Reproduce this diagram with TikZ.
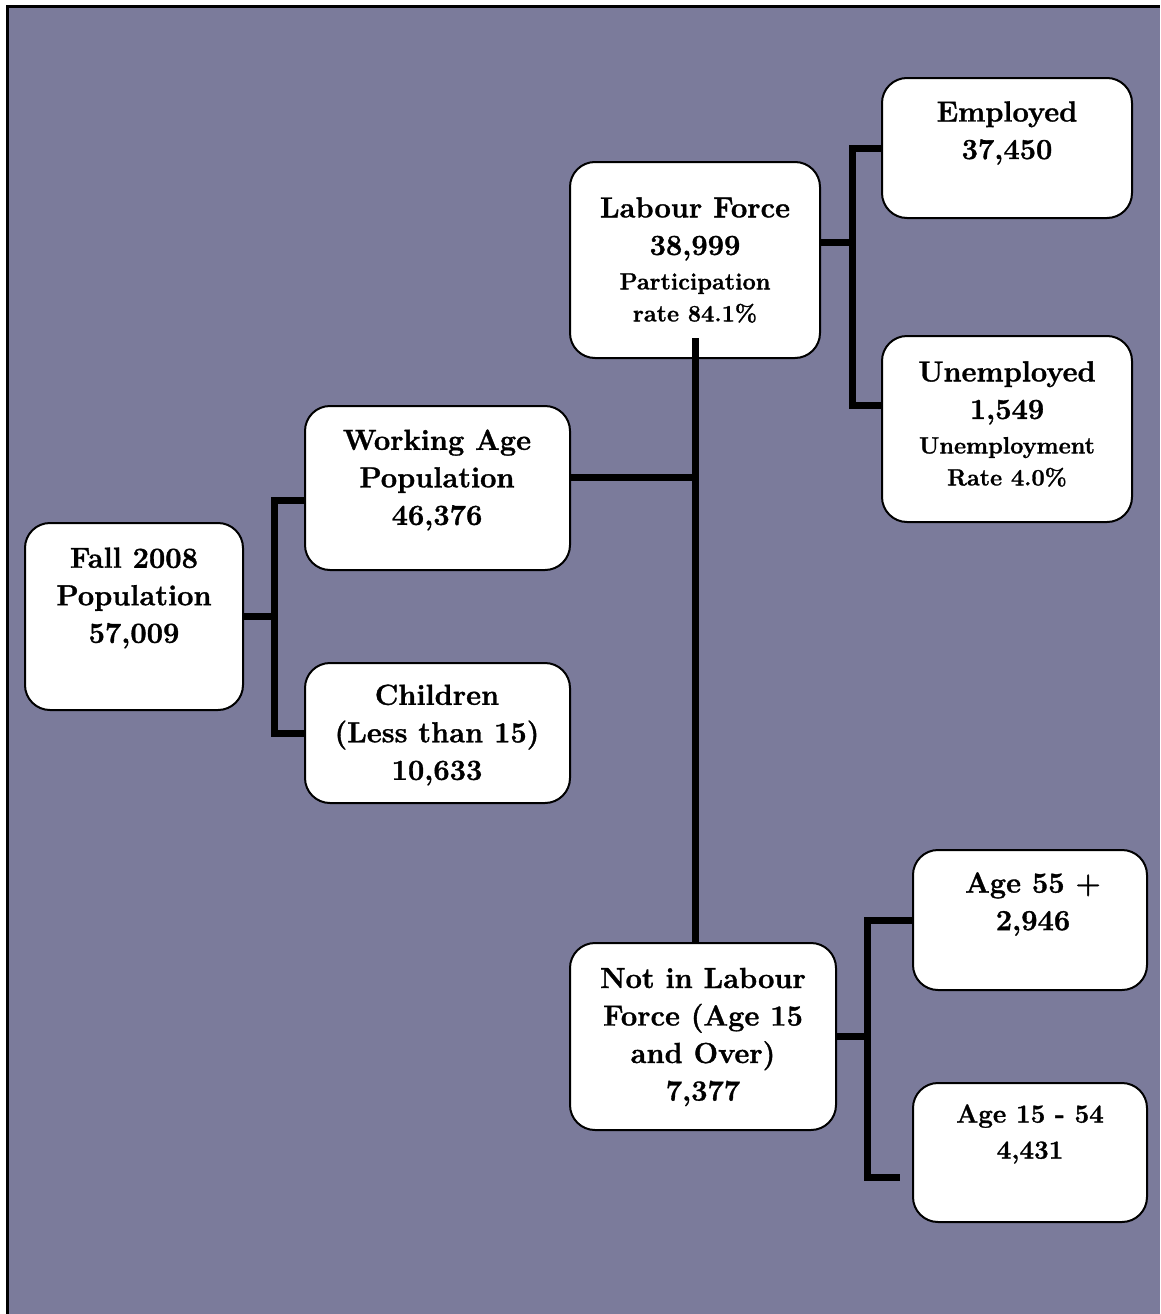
\documentclass[tikz,border=0pt]{standalone}
\usepackage{fontspec}
\setmainfont{Latin Modern Roman}[BoldFeatures={FakeBold=1.2}]
\usetikzlibrary{positioning, calc}

\definecolor{slate}{RGB}{123,123,155}
\newcommand{\boxfont}{\fontsize{29}{37.5}\selectfont\bfseries}
\newcommand{\notefont}{\fontsize{23.5}{32}\selectfont\bfseries}

\begin{document}
\begin{tikzpicture}[
  x=1pt, y=-1pt,
  box/.style={draw=black, fill=white, line width=2pt, rounded corners=25pt, inner sep=0pt},
  txt/.style={align=center, inner sep=0pt, font=\boxfont},
  link/.style={draw=black, line width=7pt}
]
\useasboundingbox (0,0) rectangle (1160,1314);

% backdrop with the frame on two sides
\fill[white] (0,0) rectangle (1160,1314);
\fill[slate] (7,6) rectangle (1160,1314);
\draw[line width=3.5pt] (7.5,1314) -- (7.5,6.5) -- (1160,6.5);

% boxes
\node[box, minimum width=218pt, minimum height=187pt] (fall)  at (134,616.5)  {};
\node[box, minimum width=265pt, minimum height=164pt] (work)  at (437.5,488)  {};
\node[box, minimum width=265pt, minimum height=140pt] (child) at (437.5,733)  {};
\node[box, minimum width=250pt, minimum height=196pt] (lf)    at (695,260)    {};
\node[box, minimum width=250pt, minimum height=140pt] (emp)   at (1007,148)   {};
\node[box, minimum width=250pt, minimum height=186pt] (unemp) at (1007,429)   {};
\node[box, minimum width=266pt, minimum height=187pt] (nlf)   at (703,1036.5) {};
\node[box, minimum width=234pt, minimum height=140pt] (old)   at (1030,920)   {};
\node[box, minimum width=234pt, minimum height=139pt] (young) at (1030,1152.5) {};

% texts
\node[txt] (fall-t)  at (134,598)  {Fall 2008\\Population\\57,009};
\node[txt] (work-t)  at (437,480)  {Working Age\\Population\\46,376};
\node[txt] (child-t) at (437,735)  {Children\\(Less than 15)\\10,633};
\node[txt] (lf-t)    at (695,260)  {Labour Force\\38,999\\[-3pt]\notefont Participation\\[-5.5pt]\notefont rate 84.1\%};
\node[txt] (emp-t)   at (1007,133) {Employed\\37,450};
\node[txt] (unemp-t) at (1007,424) {Unemployed\\1,549\\[-3pt]\notefont Unemployment\\[-5.5pt]\notefont Rate 4.0\%};
\node[txt] (nlf-t)   at (703,1037) {Not in Labour\\Force (Age 15\\and Over)\\7,377};
\node[txt] (old-t)   at (1033,904) {Age 55 +\\2,946};
\node[txt, font=\fontsize{26}{36}\selectfont\bfseries] (young-t) at (1030,1134) {Age 15 - 54\\4,431};

% population split
\draw[link] (fall.east) -- ++(30,0) coordinate (j1);
\draw[link] ([yshift=-12pt]work.west) -| (j1) |- (child.west);

% working age split
\draw[link] ([yshift=21pt]lf.south) -- (lf.south |- nlf.north);
\draw[link] ([yshift=11pt]work.east) coordinate (w) -- (w -| lf.south);

% labour force split
\draw[link] ([yshift=18pt]lf.east) -- ++(31,0) coordinate (j2);
\draw[link] (emp.west) -| (j2) |- ([yshift=24pt]unemp.west);

% not in labour force split
\draw[link] (nlf.east) -- ++(30,0) coordinate (j3);
\coordinate (j4) at (900,1177);
\draw[link] (old.west) -| (j3) |- (j4);

\end{tikzpicture}
\end{document}
